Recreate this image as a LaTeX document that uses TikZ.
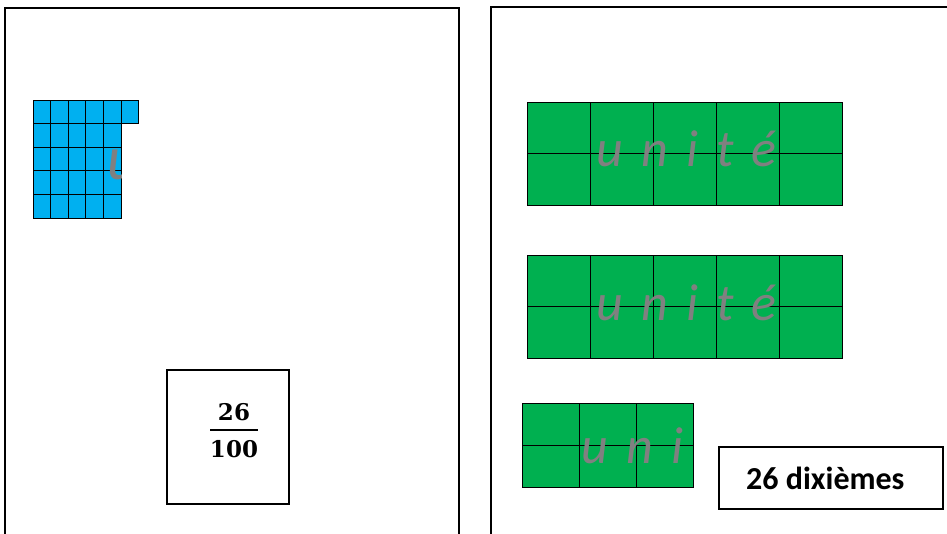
\documentclass[tikz,border=0pt]{standalone}
\usepackage{fontspec}
\setmainfont{Carlito}
\newfontfamily\fracfont{DejaVu Serif}
\newfontfamily\unitfont[LetterSpace=35]{Carlito}
\usetikzlibrary{positioning}
\definecolor{tenthblue}{HTML}{00B0F0}
\definecolor{unitgreen}{HTML}{00B050}
\definecolor{unitgray}{HTML}{808080}

\begin{document}
\begin{tikzpicture}[x=1pt,y=-1pt,
  panel/.style={draw,line width=2.5pt},
  labelbox/.style={draw,line width=2pt,inner sep=0pt},
  bluecell/.style={draw,fill=tenthblue,line width=0.9pt},
  greencell/.style={draw,fill=unitgreen,line width=0.9pt},
  unitlbl/.style={text=unitgray,anchor=base west,inner sep=0pt,font=\unitfont\itshape\fontsize{52}{52}\selectfont}]
  \useasboundingbox (0,0) rectangle (947,534);
  \clip (0,0) rectangle (947,534);
  % two panels
  \draw[panel] (5,8) rectangle (459,560);
  \draw[panel] (491,7) rectangle (980,560);
  % hundredths
  \foreach \r in {0,...,4}
    \foreach \c in {0,...,4}
      \draw[bluecell] ({33+17.6*\c},{100+23.6*\r}) rectangle ++(17.6,23.6);
  \draw[bluecell] (121,100) rectangle ++(17.6,23.6);
  \begin{scope}
    \clip (33,100) rectangle (121,218);
    \node[unitlbl,font=\unitfont\itshape\fontsize{62}{62}\selectfont] (u_0) at (107,180) {unité};
  \end{scope}
  % units
  \foreach \y [count=\i] in {102,255} {
    \foreach \r in {0,1}
      \foreach \c in {0,...,4}
        \draw[greencell] ({527+63*\c},{\y+51.5*\r}) rectangle ++(63,51.5);
    \node[unitlbl] (u_\i) at (596,\y+65) {unité};
  }
  \foreach \r in {0,1}
    \foreach \c in {0,1,2}
      \draw[greencell] ({522+57*\c},{403+42*\r}) rectangle ++(57,42);
  \begin{scope}
    \clip (522,403) rectangle (693,487);
    \node[unitlbl] (u_3) at (581,463) {unité};
  \end{scope}
  % labels
  \node[labelbox,minimum width=122pt,minimum height=134pt] (fracbox) at (228,437) {};
  \node[font=\fracfont\bfseries\fontsize{23}{23}\selectfont] (num) at (234,412) {26};
  \node[font=\fracfont\bfseries\fontsize{23}{23}\selectfont] (den) at (234,449) {100};
  \draw[line width=2pt] (210,430) -- (258,430);
  \node[labelbox,minimum width=224pt,minimum height=62pt] (tenths) at (831,478) {};
  \node[inner sep=0pt,right=28pt of tenths.west,font=\bfseries\fontsize{32}{32}\selectfont] (tenthslbl) {26 dixièmes};
\end{tikzpicture}
\end{document}
